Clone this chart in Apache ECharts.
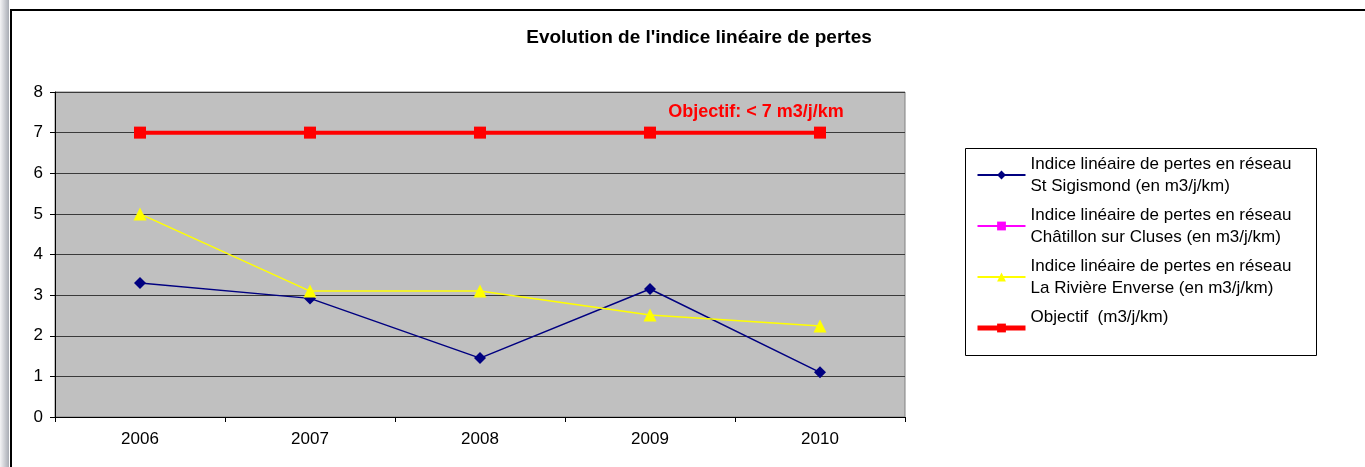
<!DOCTYPE html>
<html>
<head>
<meta charset="utf-8">
<script src="https://cdn.jsdelivr.net/npm/echarts@6/dist/echarts.min.js"></script>
<style>
  html, body { margin: 0; padding: 0; background: #fff; }
  #chart { width: 1365px; height: 467px; }
</style>
</head>
<body>
<div id="chart"></div>
<script>
// data
const years = ['2006', '2007', '2008', '2009', '2010']
const stSigismond = [3.30, 2.92, 1.45, 3.15, 1.10]
const chatillon = [null, null, null, null, null]
const riviereEnverse = [5.0, 3.1, 3.1, 2.51, 2.24]
const objectif = [7, 7, 7, 7, 7]

const legendText = {
  'St Sigismond': 'Indice linéaire de pertes en réseau\nSt Sigismond (en m3/j/km)',
  'Châtillon': 'Indice linéaire de pertes en réseau\nChâtillon sur Cluses (en m3/j/km)',
  'Rivière': 'Indice linéaire de pertes en réseau\nLa Rivière Enverse (en m3/j/km)',
  'Objectif': 'Objectif  (m3/j/km)\n ',
}

const chart = echarts.init(document.getElementById('chart'))
const font = 'Liberation Sans, Arial, sans-serif'

chart.setOption({
  backgroundColor: '#fff',
  animation: false,
  textStyle: { fontFamily: font },
  title: {
    text: 'Evolution de l\'indice linéaire de pertes',
    left: 694,
    textAlign: 'center',
    top: 23,
    textStyle: { fontSize: 19, fontWeight: 'bold', color: '#000', fontFamily: font },
  },
  graphic: [
    {
      type: 'rect',
      shape: { x: 0, y: 0, width: 9, height: 467 },
      style: {
        fill: new echarts.graphic.LinearGradient(0, 0, 1, 0, [
          { offset: 0, color: '#f4f4f6' },
          { offset: 1, color: '#a8acb4' },
        ]),
      },
    },
    {
      type: 'rect',
      shape: { x: 11, y: 10, width: 1360, height: 470 },
      style: { fill: 'none', stroke: '#000', lineWidth: 2 },
    },
    {
      type: 'rect',
      shape: { x: 965.5, y: 148.5, width: 351, height: 207 },
      style: { fill: '#fff', stroke: '#000', lineWidth: 1 },
      z: 0,
    },
  ],
  grid: {
    left: 55,
    top: 92,
    width: 850,
    height: 325,
    show: true,
    backgroundColor: '#c0c0c0',
    borderColor: '#808080',
    borderWidth: 1,
  },
  legend: {
    orient: 'vertical',
    left: 970,
    top: 137,
    itemWidth: 48,
    itemHeight: 11,
    itemGap: -15,
    z: 5,
    formatter: name => legendText[name],
    textStyle: {
      fontSize: 17,
      lineHeight: 22,
      color: '#000',
      padding: [22, 0, 0, 0],
      fontFamily: font,
    },
    data: [
      'St Sigismond',
      'Châtillon',
      'Rivière',
      { name: 'Objectif', lineStyle: { width: 5 } },
    ],
  },
  xAxis: {
    type: 'category',
    data: years,
    boundaryGap: true,
    axisLine: { lineStyle: { color: '#000', width: 1 } },
    axisTick: { show: true, length: 5, lineStyle: { color: '#000' } },
    axisLabel: { color: '#000', fontSize: 17, margin: 14, fontFamily: font },
  },
  yAxis: {
    type: 'value',
    min: 0,
    max: 8,
    interval: 1,
    axisLine: { show: true, lineStyle: { color: '#000', width: 1 } },
    axisTick: { show: true, length: 5, lineStyle: { color: '#000' } },
    axisLabel: { color: '#000', fontSize: 17, margin: 12, fontFamily: font },
    splitLine: { lineStyle: { color: '#3a3a3a', width: 1 } },
  },
  series: [
    {
      name: 'St Sigismond',
      type: 'line',
      data: stSigismond,
      symbol: 'diamond',
      symbolSize: 12,
      color: '#000080',
      lineStyle: { width: 1.5, color: '#000080' },
      z: 3,
    },
    {
      name: 'Châtillon',
      type: 'line',
      data: chatillon,
      symbol: 'rect',
      symbolSize: 8,
      color: '#ff00ff',
      lineStyle: { width: 1.5, color: '#ff00ff' },
    },
    {
      name: 'Rivière',
      type: 'line',
      data: riviereEnverse,
      symbol: 'triangle',
      symbolSize: 13,
      color: '#ffff00',
      lineStyle: { width: 1.5, color: '#ffff00' },
      z: 4,
    },
    {
      name: 'Objectif',
      type: 'line',
      data: objectif,
      symbol: 'rect',
      symbolSize: 12,
      color: '#ff0000',
      lineStyle: { width: 4, color: '#ff0000' },
      z: 5,
      label: {
        show: true,
        position: 'top',
        offset: [-64, -1],
        color: '#ff0000',
        fontSize: 18,
        fontWeight: 'bold',
        fontFamily: font,
        formatter: p => (p.dataIndex === years.length - 1 ? 'Objectif: < 7 m3/j/km' : ''),
      },
    },
  ],
})
</script>
</body>
</html>
